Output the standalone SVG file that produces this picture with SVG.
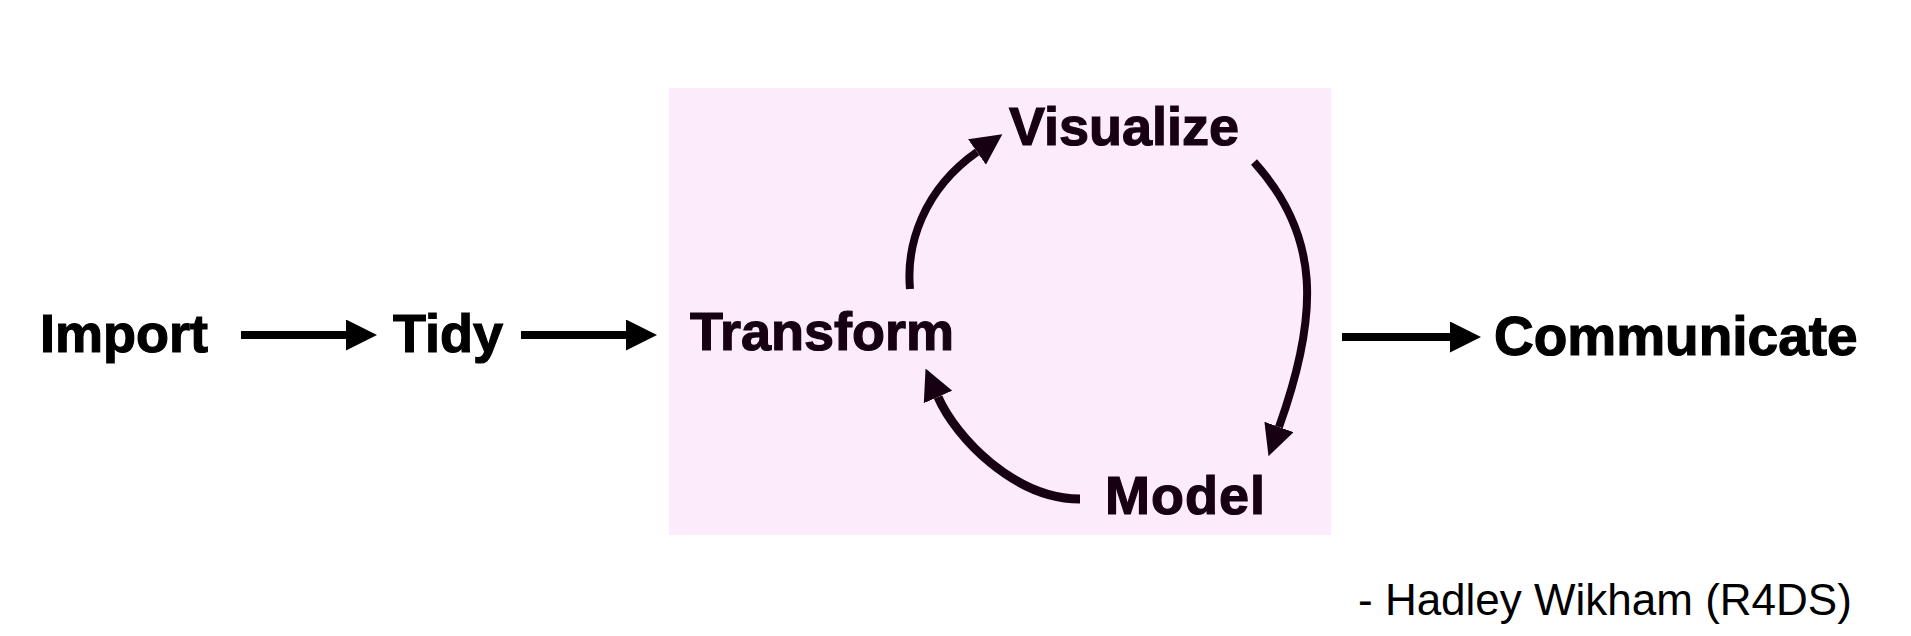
<svg xmlns="http://www.w3.org/2000/svg" width="1911" height="636" viewBox="0 0 1911 636">
  <style>
    .lbl { font-family: "Liberation Sans", Arial, Helvetica, sans-serif; font-weight: bold; font-size: 54px; fill: #000; stroke: #000; stroke-width: 1.2; }
    .lbl.in { fill: #170012; stroke: #170012; }
    .quote { font-family: "Liberation Sans", Arial, Helvetica, sans-serif; font-weight: normal; font-size: 44px; fill: #000; }
    .conn { fill: none; stroke: #000; stroke-width: 8; }
    .conn.in { stroke: #170012; }
  </style>
  <defs>
    <marker id="ah" markerUnits="userSpaceOnUse" viewBox="0 0 31 31" refX="0" refY="15.5" markerWidth="31" markerHeight="31" orient="auto">
      <path d="M0,0 L31,15.5 L0,31 z" fill="#000"/>
    </marker>
    <marker id="ahIn" markerUnits="userSpaceOnUse" viewBox="0 0 31 31" refX="0" refY="15.5" markerWidth="31" markerHeight="31" orient="auto">
      <path d="M0,0 L31,15.5 L0,31 z" fill="#170012"/>
    </marker>
  </defs>
  <rect width="1911" height="636" fill="#fff"/>
  <rect id="cycle-box" x="669" y="88" width="662" height="447" fill="#fcebfa"/>

  <g id="connectors">
    <path class="conn" d="M241,335 L346,335" marker-end="url(#ah)"/>
    <path class="conn" d="M521,335 L626,335" marker-end="url(#ah)"/>
    <path class="conn" d="M1342,337 L1450,337" marker-end="url(#ah)"/>
    <path class="conn in" d="M910,289 C906,245 923,190 977,152" marker-end="url(#ahIn)"/>
    <path class="conn in" d="M1254,162 C1320,235 1320,313 1279,427" marker-end="url(#ahIn)"/>
    <path class="conn in" style="stroke-width:9" d="M1080,499 C1015,499 956,438 938,397" marker-end="url(#ahIn)"/>
  </g>

  <g id="node-import"><text class="lbl" x="40" y="352">Import</text></g>
  <g id="node-tidy"><text class="lbl" x="393" y="352">Tidy</text></g>
  <g id="node-transform"><text class="lbl in" x="690" y="350">Transform</text></g>
  <g id="node-visualize"><text class="lbl in" x="1009" y="145">Visualize</text></g>
  <g id="node-model"><text class="lbl in" x="1105" y="514" style="letter-spacing:1px">Model</text></g>
  <g id="node-communicate"><text class="lbl" x="1494" y="355" style="font-size:55px">Communicate</text></g>
  <g id="quote"><text class="quote" x="1358" y="615">- Hadley Wikham (R4DS)</text></g>
</svg>
